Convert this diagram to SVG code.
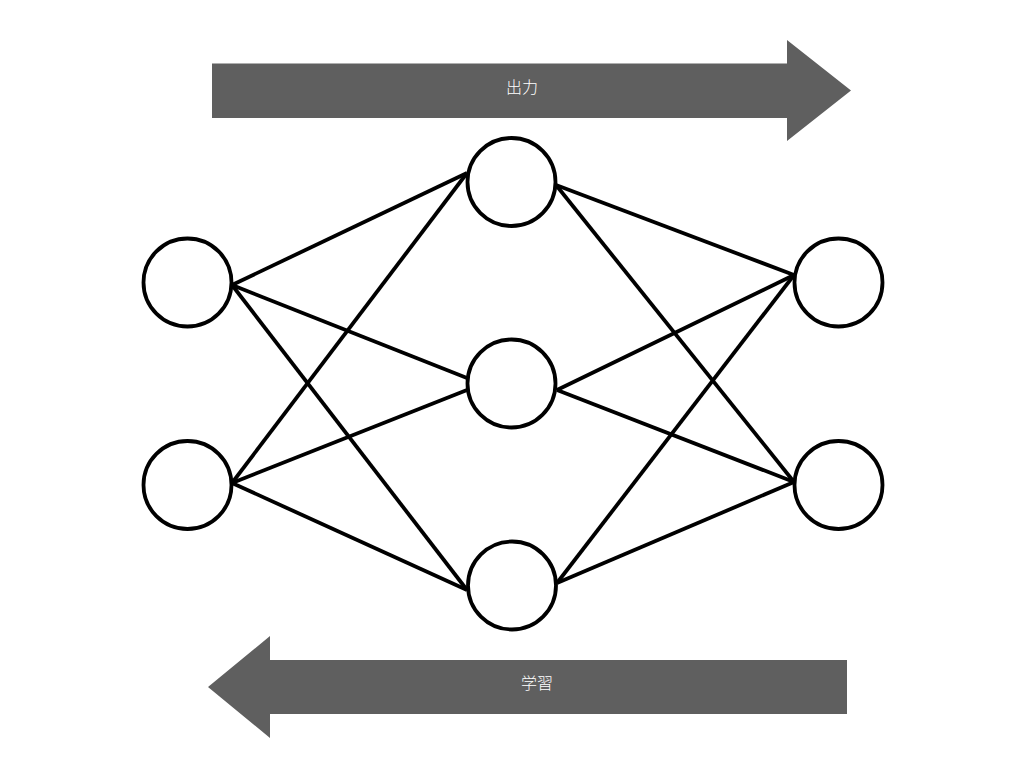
<svg xmlns="http://www.w3.org/2000/svg" width="1024" height="768" viewBox="0 0 1024 768">
<style>
.arrow{fill:#5f5f5f}
.lbl{fill:#ffffff;font-family:"Noto Sans CJK JP","Noto Sans CJK SC",sans-serif;font-size:16px;font-weight:300;text-anchor:middle;dominant-baseline:central}
.edge{stroke:#000;stroke-width:3.8;fill:none}
.node{fill:#fff;stroke:#000;stroke-width:3.8}
</style>
<rect width="1024" height="768" fill="#fff"/>
<g id="arrow-output">
<polygon class="arrow" points="212,63.5 787,63.5 787,40 851,90.5 787,141 787,118 212,118"/>
<text class="lbl" x="522" y="86">出力</text>
</g>
<g id="arrow-learning">
<polygon class="arrow" points="847,660 270,660 270,636 208,687 270,738 270,714 847,714"/>
<text class="lbl" x="537" y="682">学習</text>
</g>
<g id="connectors">
<line class="edge" x1="232" y1="285" x2="467" y2="173"/>
<line class="edge" x1="232" y1="285" x2="467" y2="378"/>
<line class="edge" x1="232" y1="285" x2="467" y2="590"/>
<line class="edge" x1="232" y1="483" x2="467" y2="173"/>
<line class="edge" x1="232" y1="483" x2="467" y2="390"/>
<line class="edge" x1="232" y1="483" x2="467" y2="590"/>
<line class="edge" x1="556" y1="185" x2="794" y2="275"/>
<line class="edge" x1="556" y1="185" x2="794" y2="482"/>
<line class="edge" x1="557" y1="390" x2="794" y2="275"/>
<line class="edge" x1="557" y1="390" x2="794" y2="482"/>
<line class="edge" x1="557" y1="583" x2="794" y2="275"/>
<line class="edge" x1="557" y1="583" x2="794" y2="482"/>
</g>
<g id="in1"><circle class="node" cx="187.5" cy="282.5" r="44"/></g>
<g id="in2"><circle class="node" cx="187.5" cy="485" r="44"/></g>
<g id="hid1"><circle class="node" cx="511.5" cy="182" r="44"/></g>
<g id="hid2"><circle class="node" cx="511.5" cy="383.5" r="44"/></g>
<g id="hid3"><circle class="node" cx="512" cy="585.5" r="44"/></g>
<g id="out1"><circle class="node" cx="838.5" cy="282.5" r="44"/></g>
<g id="out2"><circle class="node" cx="838.5" cy="485" r="44"/></g>
</svg>
